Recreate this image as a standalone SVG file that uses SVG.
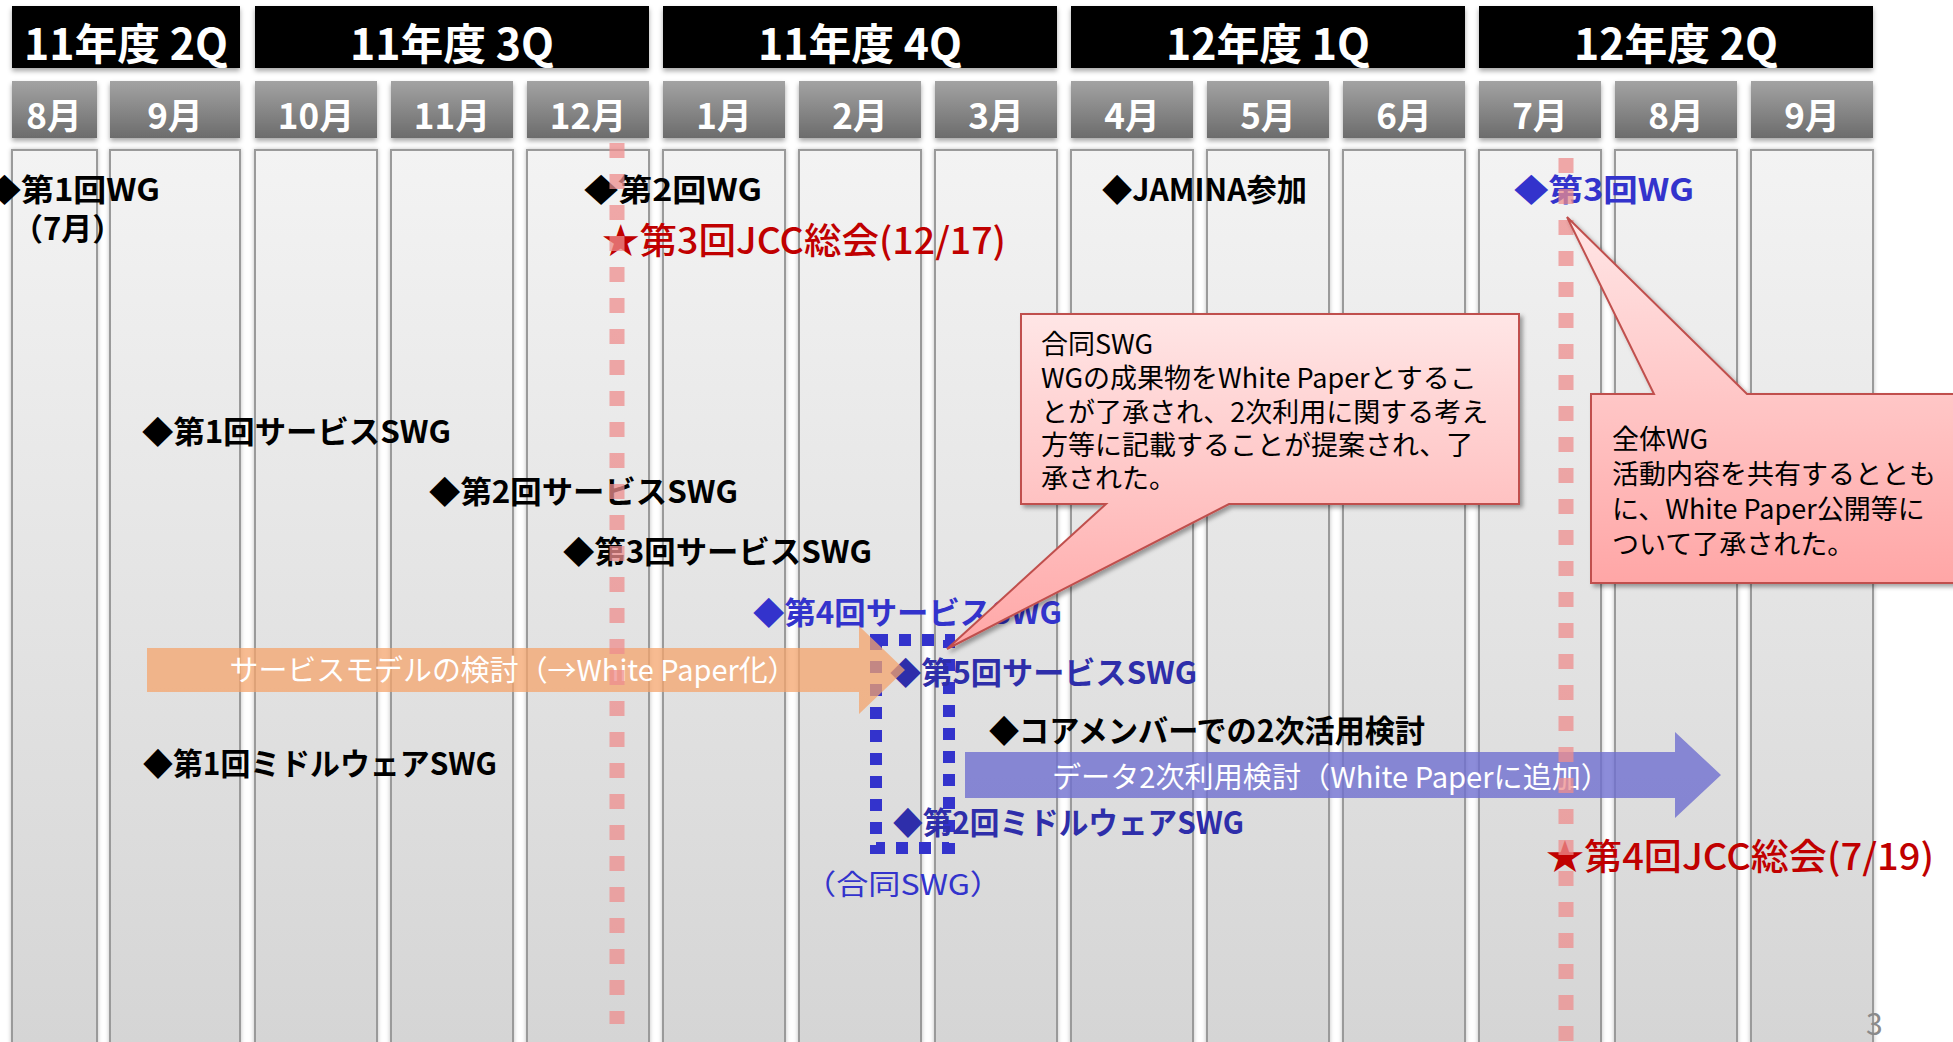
<svg xmlns="http://www.w3.org/2000/svg" width="1953" height="1042" viewBox="0 0 1953 1042">
<defs>
  <linearGradient id="colg" gradientUnits="userSpaceOnUse" x1="0" y1="150" x2="0" y2="1042">
    <stop offset="0" stop-color="#f3f3f3"/>
    <stop offset="1" stop-color="#d5d5d5"/>
  </linearGradient>
  <linearGradient id="mong" x1="0" y1="0" x2="0" y2="1">
    <stop offset="0" stop-color="#a3a3a3"/>
    <stop offset="1" stop-color="#6c6c6c"/>
  </linearGradient>
  <linearGradient id="callg" x1="0" y1="0" x2="0" y2="1">
    <stop offset="0" stop-color="#ffe6e6"/>
    <stop offset="1" stop-color="#ffa6a6"/>
  </linearGradient>
  <filter id="sh" x="-10%" y="-20%" width="120%" height="160%">
    <feDropShadow dx="0" dy="3" stdDeviation="2.5" flood-color="#000" flood-opacity="0.35"/>
  </filter>
  <filter id="csh" x="-10%" y="-2%" width="120%" height="104%">
    <feDropShadow dx="0" dy="0" stdDeviation="2" flood-color="#000" flood-opacity="0.25"/>
  </filter>
  <filter id="bsh" x="-10%" y="-10%" width="120%" height="125%">
    <feDropShadow dx="3" dy="3" stdDeviation="2" flood-color="#000" flood-opacity="0.35"/>
  </filter>
  <style>
    text { font-family: "Noto Sans CJK JP", "Noto Sans", sans-serif; }
    .col { fill: url(#colg); stroke: #9a9a9a; stroke-width: 2; }
    .qh { fill: #000; }
    .qt { fill: #fff; font-size: 43px; font-weight: 700; text-anchor: middle; }
    .mh { fill: url(#mong); }
    .mt { fill: #fff; font-size: 35px; font-weight: 700; text-anchor: middle; }
    .lb { font-size: 31px; font-weight: 700; fill: #000; }
    .bl { fill: #3333cc; }
    .bd { fill: #2e2eaa; }
    .red { font-size: 36px; font-weight: 500; fill: #c00000; }
    .arr { font-size: 29px; fill: #fff; text-anchor: middle; }
    .ct { font-size: 27px; fill: #000; }
    .redline { stroke: #ee8e8e; stroke-opacity: 0.75; stroke-width: 15; stroke-dasharray: 15 16; fill: none; }
    .callout { fill: url(#callg); stroke: #c0504d; stroke-width: 2; }
  </style>
</defs>
<rect x="0" y="0" width="1953" height="1042" fill="#fff"/>

<g id="columns" filter="url(#csh)">
  <rect class="col" x="12" y="150" width="85" height="920"/>
  <rect class="col" x="110" y="150" width="130" height="920"/>
  <rect class="col" x="255" y="150" width="122" height="920"/>
  <rect class="col" x="391" y="150" width="122" height="920"/>
  <rect class="col" x="527" y="150" width="122" height="920"/>
  <rect class="col" x="663" y="150" width="122" height="920"/>
  <rect class="col" x="799" y="150" width="122" height="920"/>
  <rect class="col" x="935" y="150" width="122" height="920"/>
  <rect class="col" x="1071" y="150" width="122" height="920"/>
  <rect class="col" x="1207" y="150" width="122" height="920"/>
  <rect class="col" x="1343" y="150" width="122" height="920"/>
  <rect class="col" x="1479" y="150" width="122" height="920"/>
  <rect class="col" x="1615" y="150" width="122" height="920"/>
  <rect class="col" x="1751" y="150" width="122" height="920"/>
</g>

<g id="quarters">
  <g id="q-11-2"><rect class="qh" x="12" y="6" width="228" height="62" filter="url(#sh)"/><text class="qt" x="126" y="60" textLength="204" lengthAdjust="spacingAndGlyphs">11年度 2Q</text></g>
  <g id="q-11-3"><rect class="qh" x="255" y="6" width="394" height="62" filter="url(#sh)"/><text class="qt" x="452" y="60" textLength="204" lengthAdjust="spacingAndGlyphs">11年度 3Q</text></g>
  <g id="q-11-4"><rect class="qh" x="663" y="6" width="394" height="62" filter="url(#sh)"/><text class="qt" x="860" y="60" textLength="204" lengthAdjust="spacingAndGlyphs">11年度 4Q</text></g>
  <g id="q-12-1"><rect class="qh" x="1071" y="6" width="394" height="62" filter="url(#sh)"/><text class="qt" x="1268" y="60" textLength="204" lengthAdjust="spacingAndGlyphs">12年度 1Q</text></g>
  <g id="q-12-2"><rect class="qh" x="1479" y="6" width="394" height="62" filter="url(#sh)"/><text class="qt" x="1676" y="60" textLength="204" lengthAdjust="spacingAndGlyphs">12年度 2Q</text></g>
</g>

<g id="months">
  <g id="m-8a"><rect class="mh" x="12" y="81" width="85" height="57" filter="url(#sh)"/><text class="mt" x="54" y="129">8月</text></g>
  <g id="m-9a"><rect class="mh" x="110" y="81" width="130" height="57" filter="url(#sh)"/><text class="mt" x="175" y="129">9月</text></g>
  <g id="m-10"><rect class="mh" x="255" y="81" width="122" height="57" filter="url(#sh)"/><text class="mt" x="316" y="129">10月</text></g>
  <g id="m-11"><rect class="mh" x="391" y="81" width="122" height="57" filter="url(#sh)"/><text class="mt" x="452" y="129">11月</text></g>
  <g id="m-12"><rect class="mh" x="527" y="81" width="122" height="57" filter="url(#sh)"/><text class="mt" x="588" y="129">12月</text></g>
  <g id="m-1"><rect class="mh" x="663" y="81" width="122" height="57" filter="url(#sh)"/><text class="mt" x="724" y="129">1月</text></g>
  <g id="m-2"><rect class="mh" x="799" y="81" width="122" height="57" filter="url(#sh)"/><text class="mt" x="860" y="129">2月</text></g>
  <g id="m-3"><rect class="mh" x="935" y="81" width="122" height="57" filter="url(#sh)"/><text class="mt" x="996" y="129">3月</text></g>
  <g id="m-4"><rect class="mh" x="1071" y="81" width="122" height="57" filter="url(#sh)"/><text class="mt" x="1132" y="129">4月</text></g>
  <g id="m-5"><rect class="mh" x="1207" y="81" width="122" height="57" filter="url(#sh)"/><text class="mt" x="1268" y="129">5月</text></g>
  <g id="m-6"><rect class="mh" x="1343" y="81" width="122" height="57" filter="url(#sh)"/><text class="mt" x="1404" y="129">6月</text></g>
  <g id="m-7"><rect class="mh" x="1479" y="81" width="122" height="57" filter="url(#sh)"/><text class="mt" x="1540" y="129">7月</text></g>
  <g id="m-8b"><rect class="mh" x="1615" y="81" width="122" height="57" filter="url(#sh)"/><text class="mt" x="1676" y="129">8月</text></g>
  <g id="m-9b"><rect class="mh" x="1751" y="81" width="122" height="57" filter="url(#sh)"/><text class="mt" x="1812" y="129">9月</text></g>
</g>

<g id="events">
  <g id="wg1"><text class="lb" x="-12" y="201" textLength="172" lengthAdjust="spacingAndGlyphs">◆第1回WG</text><text class="lb" x="12" y="240">（7月）</text></g>
  <g id="wg2"><text class="lb" x="584" y="201" textLength="178" lengthAdjust="spacingAndGlyphs">◆第2回WG</text></g>
  <g id="jcc3"><text class="red" x="602" y="254" textLength="404" lengthAdjust="spacingAndGlyphs">★第3回JCC総会(12/17)</text></g>
  <g id="jamina"><text class="lb" x="1102" y="201" textLength="205" lengthAdjust="spacingAndGlyphs">◆JAMINA参加</text></g>
  <g id="wg3"><text class="lb bl" x="1514" y="201" textLength="180" lengthAdjust="spacingAndGlyphs">◆第3回WG</text></g>
  <g id="sswg1"><text class="lb" x="142" y="443" textLength="309" lengthAdjust="spacingAndGlyphs">◆第1回サービスSWG</text></g>
  <g id="sswg2"><text class="lb" x="429" y="503" textLength="309" lengthAdjust="spacingAndGlyphs">◆第2回サービスSWG</text></g>
  <g id="sswg3"><text class="lb" x="563" y="563" textLength="309" lengthAdjust="spacingAndGlyphs">◆第3回サービスSWG</text></g>
  <g id="sswg4"><text class="lb bl" x="753" y="624" textLength="309" lengthAdjust="spacingAndGlyphs">◆第4回サービスSWG</text></g>
  <g id="goudou-box"><rect x="876" y="640" width="73" height="208" fill="none" stroke="#3333cc" stroke-width="12" stroke-dasharray="12 11"/></g>
  <g id="sswg5"><text class="lb bd" x="890" y="684" textLength="307" lengthAdjust="spacingAndGlyphs">◆第5回サービスSWG</text></g>
  <g id="core"><text class="lb" x="989" y="742" textLength="436" lengthAdjust="spacingAndGlyphs">◆コアメンバーでの2次活用検討</text></g>
  <g id="mswg1"><text class="lb" x="143" y="775" textLength="354" lengthAdjust="spacingAndGlyphs">◆第1回ミドルウェアSWG</text></g>
  <g id="mswg2"><text class="lb bd" x="893" y="834" textLength="351" lengthAdjust="spacingAndGlyphs">◆第2回ミドルウェアSWG</text></g>
  <g id="goudou-label"><text x="804" y="895" font-size="28" fill="#3333cc" textLength="198" lengthAdjust="spacingAndGlyphs">（合同SWG）</text></g>
  <g id="jcc4"><text class="red" x="1546" y="870" textLength="388" lengthAdjust="spacingAndGlyphs">★第4回JCC総会(7/19)</text></g>
</g>

<g id="connectors">
  <g id="arrow-service">
    <path d="M147,648 H859 V626 L905,670 L859,714 V692 H147 Z" fill="#f4a46c" fill-opacity="0.75"/>
    <text class="arr" x="513" y="681" textLength="567" lengthAdjust="spacingAndGlyphs">サービスモデルの検討（→White Paper化）</text>
  </g>
  <g id="arrow-data">
    <path d="M965,752 H1675 V732 L1721,775 L1675,818 V798 H965 Z" fill="#6f6fd0" fill-opacity="0.8"/>
    <text class="arr" x="1331" y="788" textLength="558" lengthAdjust="spacingAndGlyphs">データ2次利用検討（White Paperに追加）</text>
  </g>
  <line class="redline" x1="617" y1="143" x2="617" y2="1024"/>
  <line class="redline" x1="1566" y1="158" x2="1566" y2="1050"/>
</g>

<g id="callout-goudou">
  <path class="callout" filter="url(#bsh)" d="M1021,314 H1519 V504 H1229 L947,649 L1106,504 H1021 Z"/>
  <text class="ct" x="1041" y="354">合同SWG</text>
  <text class="ct" x="1041" y="388">WGの成果物をWhite Paperとするこ</text>
  <text class="ct" x="1041" y="422">とが了承され、2次利用に関する考え</text>
  <text class="ct" x="1041" y="455">方等に記載することが提案され、了</text>
  <text class="ct" x="1041" y="488">承された。</text>
</g>

<g id="callout-zentai">
  <path class="callout" filter="url(#bsh)" d="M1591,394 H1654 L1567,217 L1747,394 H1965 V583 H1591 Z"/>
  <text class="ct" x="1612" y="449">全体WG</text>
  <text class="ct" x="1612" y="484">活動内容を共有するととも</text>
  <text class="ct" x="1612" y="519">に、White Paper公開等に</text>
  <text class="ct" x="1612" y="554">ついて了承された。</text>
</g>

<g id="page"><text x="1866" y="1035" font-family="Liberation Serif, serif" font-size="30" fill="#8a8a8a">3</text></g>
</svg>
